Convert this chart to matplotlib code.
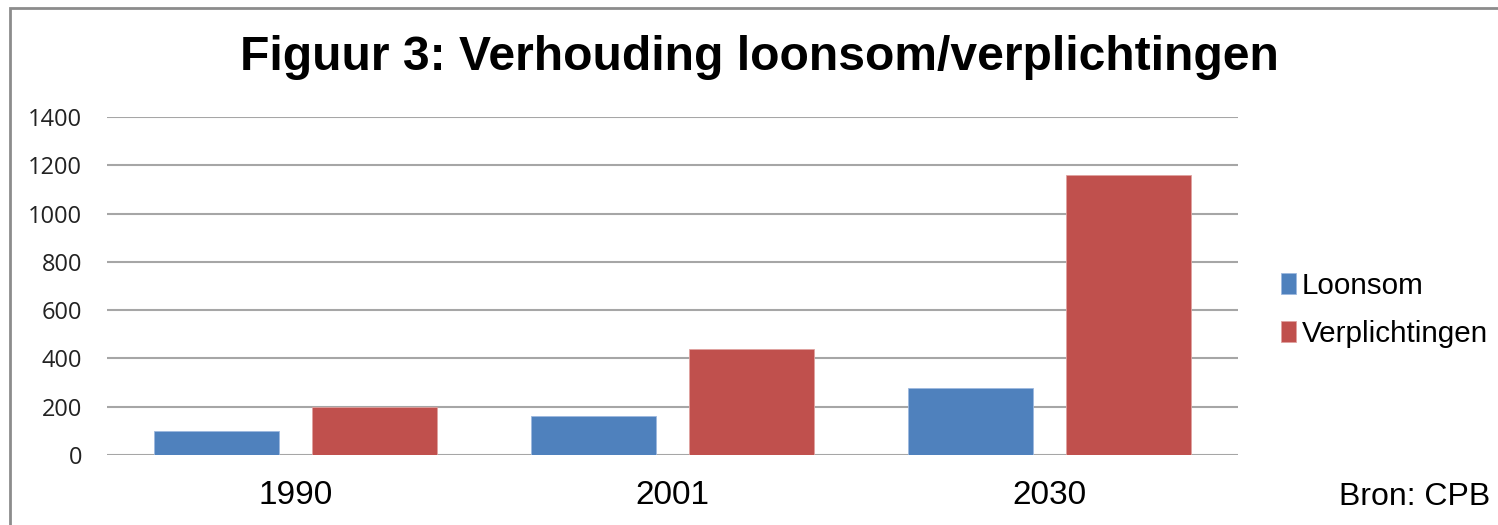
import matplotlib.pyplot as plt
import matplotlib.patches as mpatches
import numpy as np

jaren = ["1990", "2001", "2030"]
loonsom = [100, 160, 277]
verplichtingen = [200, 437, 1160]
y_ticks = [0, 200, 400, 600, 800, 1000, 1200, 1400]

blauw = "#4F81BD"
rood = "#C0504D"

fig = plt.figure(figsize=(14.98, 5.25), dpi=100)
ax = fig.add_axes([107/1498, 70/525, 1131/1498, 338/525])

x = np.arange(len(jaren))
w = 0.332
off = (w + 0.085) / 2
ax.bar(x - off, loonsom, w, color=blauw, edgecolor="#9DB9DF", linewidth=0.6, label="Loonsom", zorder=3)
ax.bar(x + off, verplichtingen, w, color=rood, edgecolor="#E0A2A0", linewidth=0.6, label="Verplichtingen", zorder=3)

ax.set_xlim(-0.5, 2.5)
ax.set_ylim(0, 1400)
ax.set_yticks(y_ticks)
ax.set_yticklabels([str(v) for v in y_ticks], fontfamily="Open Sans", fontsize=17, color="#222222")
ax.set_xticks(x)
ax.set_xticklabels(jaren, fontfamily="Liberation Sans", fontsize=24)
ax.tick_params(axis="y", length=0, pad=18)
ax.tick_params(axis="x", length=0, pad=18)
ax.grid(axis="y", color="#A6A6A6", linewidth=1.5, zorder=0)
for s in ax.spines.values():
    s.set_visible(False)

fig.text(0.507, 1 - 58/525, "Figuur 3: Verhouding loonsom/verplichtingen", ha="center", va="center",
         fontfamily="Liberation Sans", fontweight="bold", fontsize=34.6)

leg = fig.legend(loc="center left", bbox_to_anchor=(1281/1498, 1 - 310/525), frameon=False,
                 prop={"family": "Liberation Sans", "size": 21.3}, handlelength=0.5, handleheight=0.7,
                 handletextpad=0.2, labelspacing=0.68, borderpad=0, borderaxespad=0)

fig.text(1490/1498, 1 - 497/525, "Bron: CPB", ha="right", va="center",
         fontfamily="Liberation Sans", fontsize=23)

# grijze rand rond de grafiek
fig.patches.append(mpatches.Rectangle((10/1498, -0.1), 1.2, 1 - 8/525 + 0.1, transform=fig.transFigure,
                                      fill=False, edgecolor="#8C8C8C", linewidth=2))

plt.savefig("out.png", dpi=100)
